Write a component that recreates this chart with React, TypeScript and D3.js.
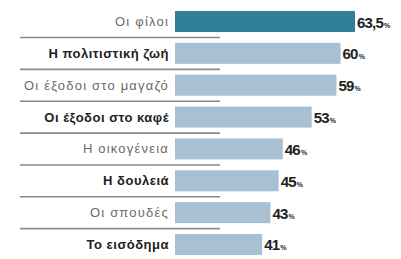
import { useEffect, useRef } from "react";
import * as d3 from "d3";

const categories = [
  "Οι φίλοι",
  "Η πολιτιστική ζωή",
  "Οι έξοδοι στο μαγαζό",
  "Οι έξοδοι στο καφέ",
  "Η οικογένεια",
  "Η δουλειά",
  "Οι σπουδές",
  "Το εισόδημα",
];
const values = [63.5, 60, 59, 53, 46, 45, 43, 41];
const valueLabels = ["63,5", "60", "59", "53", "46", "45", "43", "41"];
const boldRows = [false, true, false, true, false, true, false, true];

const width = 401;
const height = 259;

const App = () => {
  const svgRef = useRef<SVGSVGElement>(null);

  useEffect(() => {
    const svg = d3.select(svgRef.current);
    svg.selectAll("*").remove();

    const barStart = 175;
    // bars are cut short on the left, the zero sits behind the labels
    const x = d3.scaleLinear().domain([0, 63.5]).range([93, 355]);
    const y = d3
      .scaleBand()
      .domain(categories)
      .range([11, 255])
      .paddingInner(0.34)
      .paddingOuter(0);

    const rows = svg
      .selectAll("g.row")
      .data(categories)
      .join("g")
      .attr("class", "row");

    // separators under each row
    rows
      .filter((d, i) => i < categories.length - 1)
      .append("line")
      .attr("x1", 20)
      .attr("x2", 220)
      .attr("y1", (d) => y(d)! + y.bandwidth() + 5.5)
      .attr("y2", (d) => y(d)! + y.bandwidth() + 5.5)
      .attr("stroke", "#8a8a8a")
      .attr("stroke-width", 1.6);

    rows
      .append("rect")
      .attr("x", barStart)
      .attr("y", (d) => y(d)!)
      .attr("width", (d, i) => x(values[i]) - barStart)
      .attr("height", y.bandwidth())
      .attr("fill", (d, i) => (i === 0 ? "#2f7f99" : "#a9c0d3"));

    rows
      .append("text")
      .attr("x", 169)
      .attr("y", (d) => y(d)! + y.bandwidth() / 2 + 4.5)
      .attr("text-anchor", "end")
      .attr("font-family", "'Liberation Sans', Arial, sans-serif")
      .attr("font-size", 13)
      .attr("letter-spacing", (d, i) => (boldRows[i] ? 0.5 : 1.2))
      .attr("font-weight", (d, i) => (boldRows[i] ? "bold" : "normal"))
      .attr("fill", (d, i) => (boldRows[i] ? "#222" : "#6a6a6a"))
      .text((d) => d);

    const vt = rows
      .append("text")
      .attr("x", (d, i) => x(values[i]) + 2)
      .attr("y", (d) => y(d)! + y.bandwidth() / 2 + 6)
      .attr("font-family", "'Liberation Sans Narrow', 'Liberation Sans', sans-serif")
      .attr("font-weight", "bold")
      .attr("letter-spacing", -0.8)
      .attr("fill", "#222");
    vt.append("tspan")
      .attr("font-size", 15)
      .text((d, i) => valueLabels[i]);
    vt.append("tspan").attr("font-size", 7).attr("dx", 1).text("%");
  }, []);

  return (
    <div style={{ position: "absolute", left: 0, top: 0 }}>
      <svg ref={svgRef} width={width} height={height} style={{ display: "block", background: "#fff" }}></svg>
    </div>
  );
};

export default App;
